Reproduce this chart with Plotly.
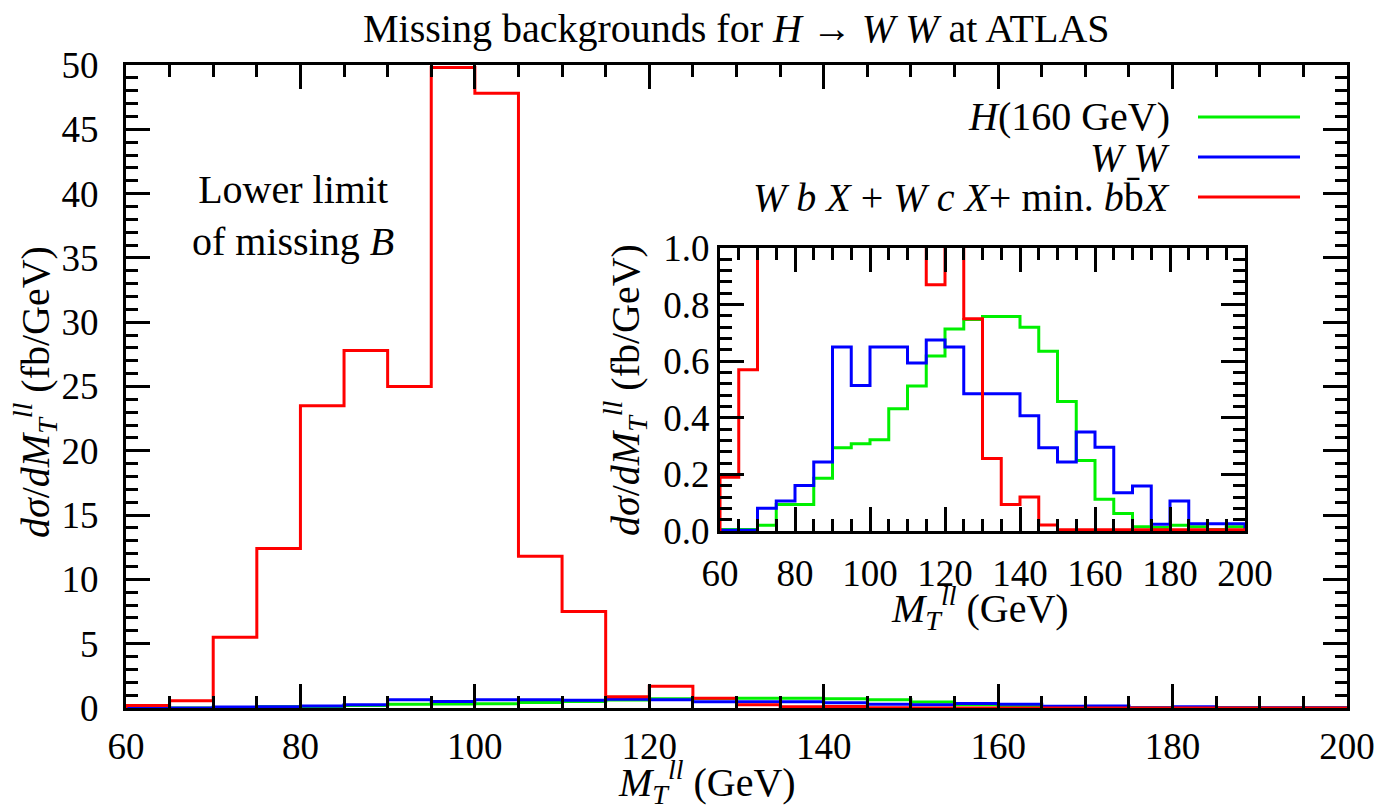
import plotly.graph_objects as go

# ---- data (bin width 5 GeV, left edges 60..195) ----
bin_edges = list(range(60, 205, 5))  # 60..200

higgs_160 = [0.005, 0.005, 0.02, 0.094, 0.094, 0.186, 0.294, 0.308, 0.322, 0.432,
             0.512, 0.618, 0.714, 0.747, 0.758, 0.758, 0.72, 0.635, 0.458, 0.249,
             0.112, 0.062, 0.015, 0.012, 0.02, 0.015, 0.005, 0.015]
ww = [0.003, 0.003, 0.08, 0.106, 0.161, 0.244, 0.65, 0.514, 0.65, 0.65,
      0.594, 0.675, 0.65, 0.485, 0.485, 0.485, 0.407, 0.294, 0.244, 0.35,
      0.296, 0.135, 0.159, 0.024, 0.106, 0.026, 0.026, 0.026]
wbx = [0.19, 0.57, 5.5, 12.4, 23.5, 27.8, 25.0, 49.8, 47.8, 11.8,
       7.5, 0.87, 1.7, 0.75, 0.256, 0.094, 0.12, 0.021, 0.004, 0.004,
       0.004, 0.004, 0.004, 0.004, 0.004, 0.004, 0.004, 0.004]

legend_labels = ["<i>H</i>(160 GeV)", "<i>W W</i>",
                 "<i>W b X</i> + <i>W c X</i>+ min. <i>b</i>b\u0304<i>X</i>"]
colors = ["#00f000", "#0000ff", "#ff0000"]
series = [higgs_160, ww, wbx]

FONT = "Liberation Serif"
FS = 37
TFS = 40

def step_xy(vals):
    xs = [bin_edges[0]] + bin_edges[:-1] + [bin_edges[-1], bin_edges[-1]]
    ys = [0] + list(vals) + [vals[-1], 0]
    return xs, ys

fig = go.Figure()
for vals, col in zip(series, colors):
    xs, ys = step_xy(vals)
    fig.add_trace(go.Scatter(x=xs, y=ys, mode="lines", line=dict(color=col, width=3, shape="hv"),
                             xaxis="x", yaxis="y", showlegend=False))
for vals, col in zip(series, colors):
    xs, ys = step_xy(vals)
    fig.add_trace(go.Scatter(x=xs, y=ys, mode="lines", line=dict(color=col, width=3, shape="hv"),
                             xaxis="x2", yaxis="y2", showlegend=False))

OFF = 8  # page body margin
PL, PT, PR, PB = 126, 65, 1347, 708   # plot area in screenshot pixels
W, H = 1385, 806
L, T = PL - OFF, PT - OFF
pw, ph = PR - PL, PB - PT
R = W - L - pw
B = H - T - ph

def px_x(p):
    return (p - PL) / pw

def px_y(p):
    return (PB - p) / ph

axis_common = dict(showline=True, linewidth=3, linecolor="black", mirror="ticks",
                   ticks="inside", ticklen=24, tickwidth=3, tickcolor="black",
                   showgrid=False, zeroline=False,
                   tickfont=dict(family=FONT, size=FS, color="black"))

def minor(d):
    return dict(dtick=d, ticks="inside", ticklen=12, tickwidth=3, tickcolor="black", showgrid=False)

fig.update_layout(
    width=W, height=H,
    margin=dict(l=L, r=R, t=T, b=B),
    paper_bgcolor="white", plot_bgcolor="rgba(0,0,0,0)",
    showlegend=False,
    xaxis=dict(range=[60, 200], domain=[0, 1], anchor="y", dtick=20, tick0=60,
               minor=minor(5), ticklabelstandoff=4, **axis_common),
    yaxis=dict(range=[0, 50], domain=[0, 1], anchor="x", dtick=5,
               minor=minor(1), ticklabelstandoff=17, **axis_common),
    xaxis2=dict(range=[60, 200], domain=[px_x(720), px_x(1245)], anchor="y2", dtick=20, tick0=60,
                minor=minor(5), ticklabelstandoff=8, **axis_common),
    yaxis2=dict(range=[0, 1], domain=[px_y(531), px_y(248)], anchor="x2", dtick=0.2, tickformat=".1f",
                minor=minor(0.04), ticklabelstandoff=0, **axis_common),
)

tfont = dict(family=FONT, size=TFS, color="black")

def ann(text, x, y, **kw):
    d = dict(text=text, x=px_x(x), y=px_y(y), xref="paper", yref="paper", showarrow=False,
             xanchor="center", yanchor="middle", font=tfont)
    d.update(kw)
    return d

annotations = [
    ann("Missing backgrounds for <i>H</i> \u2192 <i>W W</i> at ATLAS", 736, 29),
    ann("<i>M</i><sub><i>T</i></sub><sup><i>ll</i></sup> (GeV)", 707, 782),
    ann("<i>d\u03c3</i>/<i>dM</i><sub><i>T</i></sub><sup><i>ll</i></sup> (fb/GeV)", 35, 392, textangle=-90),
    ann("<i>M</i><sub><i>T</i></sub><sup><i>ll</i></sup> (GeV)", 980, 608),
    ann("<i>d\u03c3</i>/<i>dM</i><sub><i>T</i></sub><sup><i>ll</i></sup> (fb/GeV)", 625, 390, textangle=-90),
    ann("Lower limit<br>of missing <i>B</i>", 293, 215, align="center"),
]
legend_y = [117, 157, 197]
shapes = []
for lab, col, yy in zip(legend_labels, colors, legend_y):
    annotations.append(ann(lab, 1172, yy, xanchor="right"))
    shapes.append(dict(type="line", xref="paper", yref="paper", x0=px_x(1198), x1=px_x(1300),
                       y0=px_y(yy), y1=px_y(yy), line=dict(color=col, width=3)))

fig.update_layout(annotations=annotations, shapes=shapes)
fig.write_html("out.html")
